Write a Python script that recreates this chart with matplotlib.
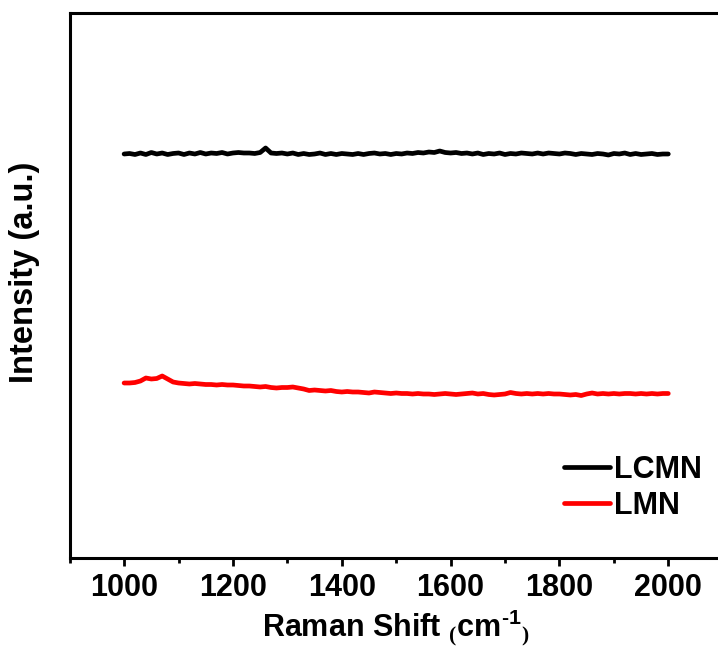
import numpy as np
import matplotlib
matplotlib.use("Agg")
import matplotlib.pyplot as plt
from matplotlib.ticker import MultipleLocator

plt.rcParams['font.family'] = ['Liberation Sans', 'DejaVu Sans']
plt.rcParams['font.weight'] = 'bold'
plt.rcParams['mathtext.fontset'] = 'custom'
plt.rcParams['mathtext.rm'] = 'Liberation Serif'
plt.rcParams['mathtext.bf'] = 'Liberation Sans:bold'

# Raman shift grid (cm^-1)
shift = np.arange(1000, 2001, 10)

# LCMN intensity (a.u.)
lcmn = [404.0, 404.5, 403.5, 405.0, 403.5, 405.5, 404.0, 405.0, 403.5, 404.5,
        405.0, 403.5, 405.0, 404.0, 405.5, 404.0, 405.0, 404.5, 405.5, 404.0,
        405.0, 405.5, 405.0, 405.0, 404.5, 405.5, 410.0, 405.0, 404.5, 405.0,
        404.0, 405.0, 403.5, 404.5, 403.5, 404.0, 405.0, 403.5, 404.5, 403.5,
        404.5, 404.0, 403.5, 404.5, 403.5, 404.5, 405.0, 404.0, 404.5, 403.5,
        404.5, 404.0, 405.0, 404.5, 405.5, 405.0, 406.0, 405.5, 407.0, 405.5,
        405.0, 405.5, 404.5, 405.0, 404.0, 405.0, 403.5, 404.5, 404.0, 405.0,
        403.5, 404.5, 404.0, 405.0, 404.5, 404.0, 405.0, 404.0, 405.0, 404.5,
        404.0, 405.0, 404.5, 403.5, 404.5, 404.0, 403.5, 404.5, 404.0, 403.0,
        404.5, 404.0, 405.0, 403.5, 404.5, 403.5, 404.0, 404.5, 403.5, 404.0,
        404.0]

# LMN intensity (a.u.)
lmn = [175.0, 175.0, 175.5, 177.0, 180.0, 179.0, 179.5, 182.0, 179.0, 176.0,
       175.0, 174.5, 174.0, 174.5, 174.0, 173.5, 173.5, 173.0, 173.5, 173.0,
       173.0, 172.5, 172.0, 172.0, 171.5, 171.0, 171.5, 170.5, 170.0, 170.5,
       170.5, 171.0, 170.0, 169.0, 167.5, 168.0, 167.5, 167.0, 167.5, 166.5,
       166.0, 166.5, 166.0, 166.0, 165.5, 165.0, 166.0, 165.5, 165.0, 164.5,
       165.0, 164.5, 164.5, 164.0, 164.5, 164.0, 164.0, 163.5, 164.0, 164.5,
       164.0, 163.5, 164.0, 164.5, 165.0, 164.0, 164.5, 163.5, 163.0, 163.5,
       164.0, 165.5, 164.5, 164.0, 164.5, 164.0, 164.5, 164.0, 164.5, 164.0,
       164.0, 163.5, 163.0, 163.5, 162.5, 164.0, 165.0, 164.0, 164.5, 164.0,
       164.5, 164.0, 164.5, 164.5, 164.0, 164.5, 164.0, 164.5, 164.0, 164.5,
       164.5]

series_labels = ['LCMN', 'LMN']
series_colors = ['black', 'red']
xticks = [1000, 1200, 1400, 1600, 1800, 2000]

fig = plt.figure(figsize=(7.18, 6.48), dpi=100)
ax = fig.add_axes([69.7 / 718, 90 / 648, (722.7 - 69.7) / 718, (558 - 12.7) / 648])

for y, lab, col in zip([lcmn, lmn], series_labels, series_colors):
    ax.plot(shift, y, color=col, lw=3.4, label=lab, solid_capstyle='round', solid_joinstyle='round')

ax.set_xlim(900, 2100)
ax.set_ylim(0, 545.3)
ax.set_xticks(xticks)
ax.xaxis.set_minor_locator(MultipleLocator(100))
ax.set_yticks([])
for s in ax.spines.values():
    s.set_linewidth(2.2)
ax.tick_params(axis='x', which='major', direction='out', length=6, width=2, pad=5, labelsize=22)
ax.tick_params(axis='x', which='minor', direction='out', length=3.5, width=2)
for t in ax.get_xticklabels():
    t.set_fontweight('bold')

ax.set_xlabel('Raman Shift $_{(}\\mathbf{cm}^{\\mathbf{\u2010}\\mathbf{1}}{}_{)}$',
              fontsize=22, fontweight='bold', labelpad=3)
fig.text(25 / 718, 1 - 272 / 648, 'Intensity (a.u.)', rotation=90, ha='center', va='center',
         fontsize=23.5, fontweight='bold')

leg = ax.legend(loc='upper left', bbox_to_anchor=(0.738, 0.212), frameon=False, fontsize=22,
                handlelength=1.5, handletextpad=0.15, labelspacing=0.2, borderaxespad=0)

fig.savefig('out.png', dpi=100)
